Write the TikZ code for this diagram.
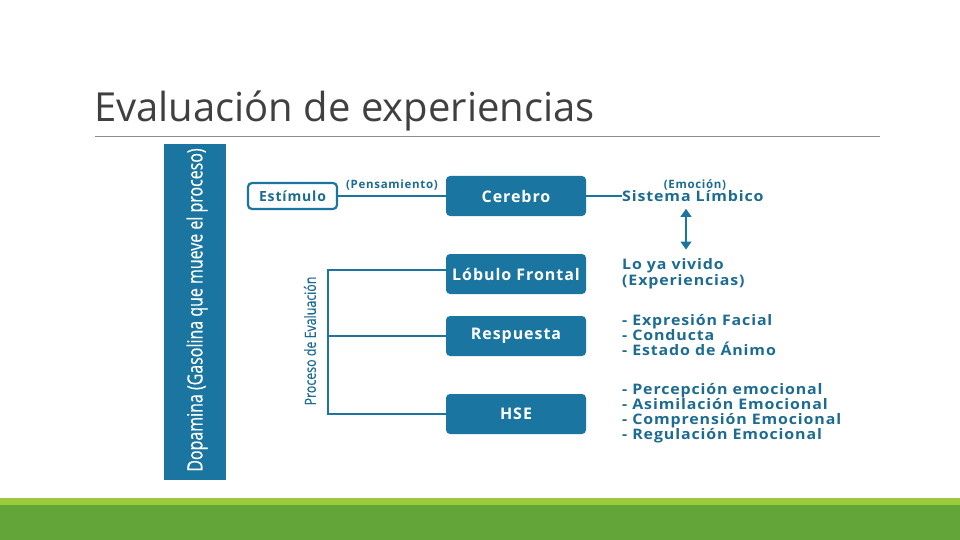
\documentclass[tikz,border=0pt]{standalone}
\usepackage{fontspec}
\setmainfont{Open Sans}
\newfontfamily\bxfont{Open Sans}[LetterSpace=6]
\newfontfamily\rtfont{Open Sans}[LetterSpace=6, FakeStretch=1.1]
\newfontfamily\cndfont{Open Sans}[FakeBold=0.4]
\usetikzlibrary{arrows.meta}
\definecolor{boxblue}{HTML}{1A75A0}
\definecolor{txtblue}{HTML}{1C6B91}
\definecolor{titlegray}{HTML}{404040}
\definecolor{rulegray}{HTML}{8C8C8C}
\definecolor{lgreen}{HTML}{9BCB3C}
\definecolor{dgreen}{HTML}{63A538}
\tikzset{
  bluebox/.style={fill=boxblue, rounded corners=4pt, minimum width=140pt, minimum height=40pt,
    text=white, font=\bxfont\bfseries\fontsize{16}{18}\selectfont, inner sep=0pt},
  outbox/.style={draw=boxblue, line width=2.2pt, fill=white, rounded corners=4pt,
    minimum width=89pt, minimum height=26pt, text=txtblue, font=\bxfont\bfseries\fontsize{14}{16}\selectfont, inner sep=0pt},
  conn/.style={draw=boxblue, line width=1.1pt},
  rtext/.style={anchor=west, text=txtblue, inner sep=0pt, align=left, font=\rtfont\bfseries\fontsize{14.5}{15}\selectfont},
  smalllbl/.style={text=txtblue, inner sep=0pt, font=\bxfont\bfseries\fontsize{11.5}{13}\selectfont}
}
\begin{document}
\begin{tikzpicture}[x=1pt,y=-1pt]
\useasboundingbox (0,0) rectangle (960,540);
\fill[white] (0,0) rectangle (960,540);
% title
\node[anchor=base west, inner sep=0pt, text=titlegray, font=\fontsize{40}{44}\selectfont] (title) at (94,122) {Evaluación de experiencias};
\draw[rulegray, line width=0.9pt] (95,136) -- (880,136);
% green bars
\fill[lgreen] (0,498) rectangle (960,505);
\fill[dgreen] (0,505) rectangle (960,540);
% dopamina bar
\fill[boxblue] (164,144) rectangle (226,480);
\node[rotate=90, text=white, inner sep=0pt, font=\cndfont\fontsize{21}{23}\selectfont] (dopa) at (197,310) {\scalebox{0.76}[1]{Dopamina (Gasolina que mueve el proceso)}};
% proceso
\node[rotate=90, text=txtblue, inner sep=0pt, font=\cndfont\fontsize{15.5}{17}\selectfont] (proc) at (310,341) {\scalebox{0.8}[1]{Proceso de Evaluación}};
% boxes
\node[outbox] (est) at (292.5,196) {Estímulo};
\node[bluebox] (cer) at (516,196) {Cerebro};
\node[bluebox] (lob) at (516,274) {Lóbulo Frontal};
\node[bluebox] (resp) at (516,336) {Respuesta};
\node[bluebox] (hse) at (516,414) {HSE};
% right texts
\node[rtext] (sis) at (622,196) {Sistema Límbico};
\node[smalllbl] (emo) at (695,185) {(Emoción)};
\node[rtext, font=\rtfont\bfseries\fontsize{14.5}{16}\selectfont] (lo) at (622,274) {Lo ya vivido\\(Experiencias)};
\node[rtext] (exp) at (622,335) {- Expresión Facial\\- Conducta\\- Estado de Ánimo};
\node[rtext] (per) at (622,413.5) {- Percepción emocional\\- Asimilación Emocional\\- Comprensión Emocional\\- Regulación Emocional};
% connectors
\draw[conn] (est.east) -- node[smalllbl, above=5pt] (pens) {(Pensamiento)} (cer.west);
\draw[conn] (cer.east) -- (sis.west);
\coordinate (ax) at (686,0);
\draw[conn, {Triangle[width=11pt,length=8pt]}-{Triangle[width=11pt,length=8pt]}] ([yshift=-7pt]sis.south -| ax) -- ([yshift=9pt]lo.north -| ax);
\coordinate (bx) at (328,0);
\draw[conn] ([yshift=4pt]lob.west) -| (bx |- hse.west) -- (hse.west);
\draw[conn] (resp.west) -- (resp.west -| bx);
\end{tikzpicture}
\end{document}
